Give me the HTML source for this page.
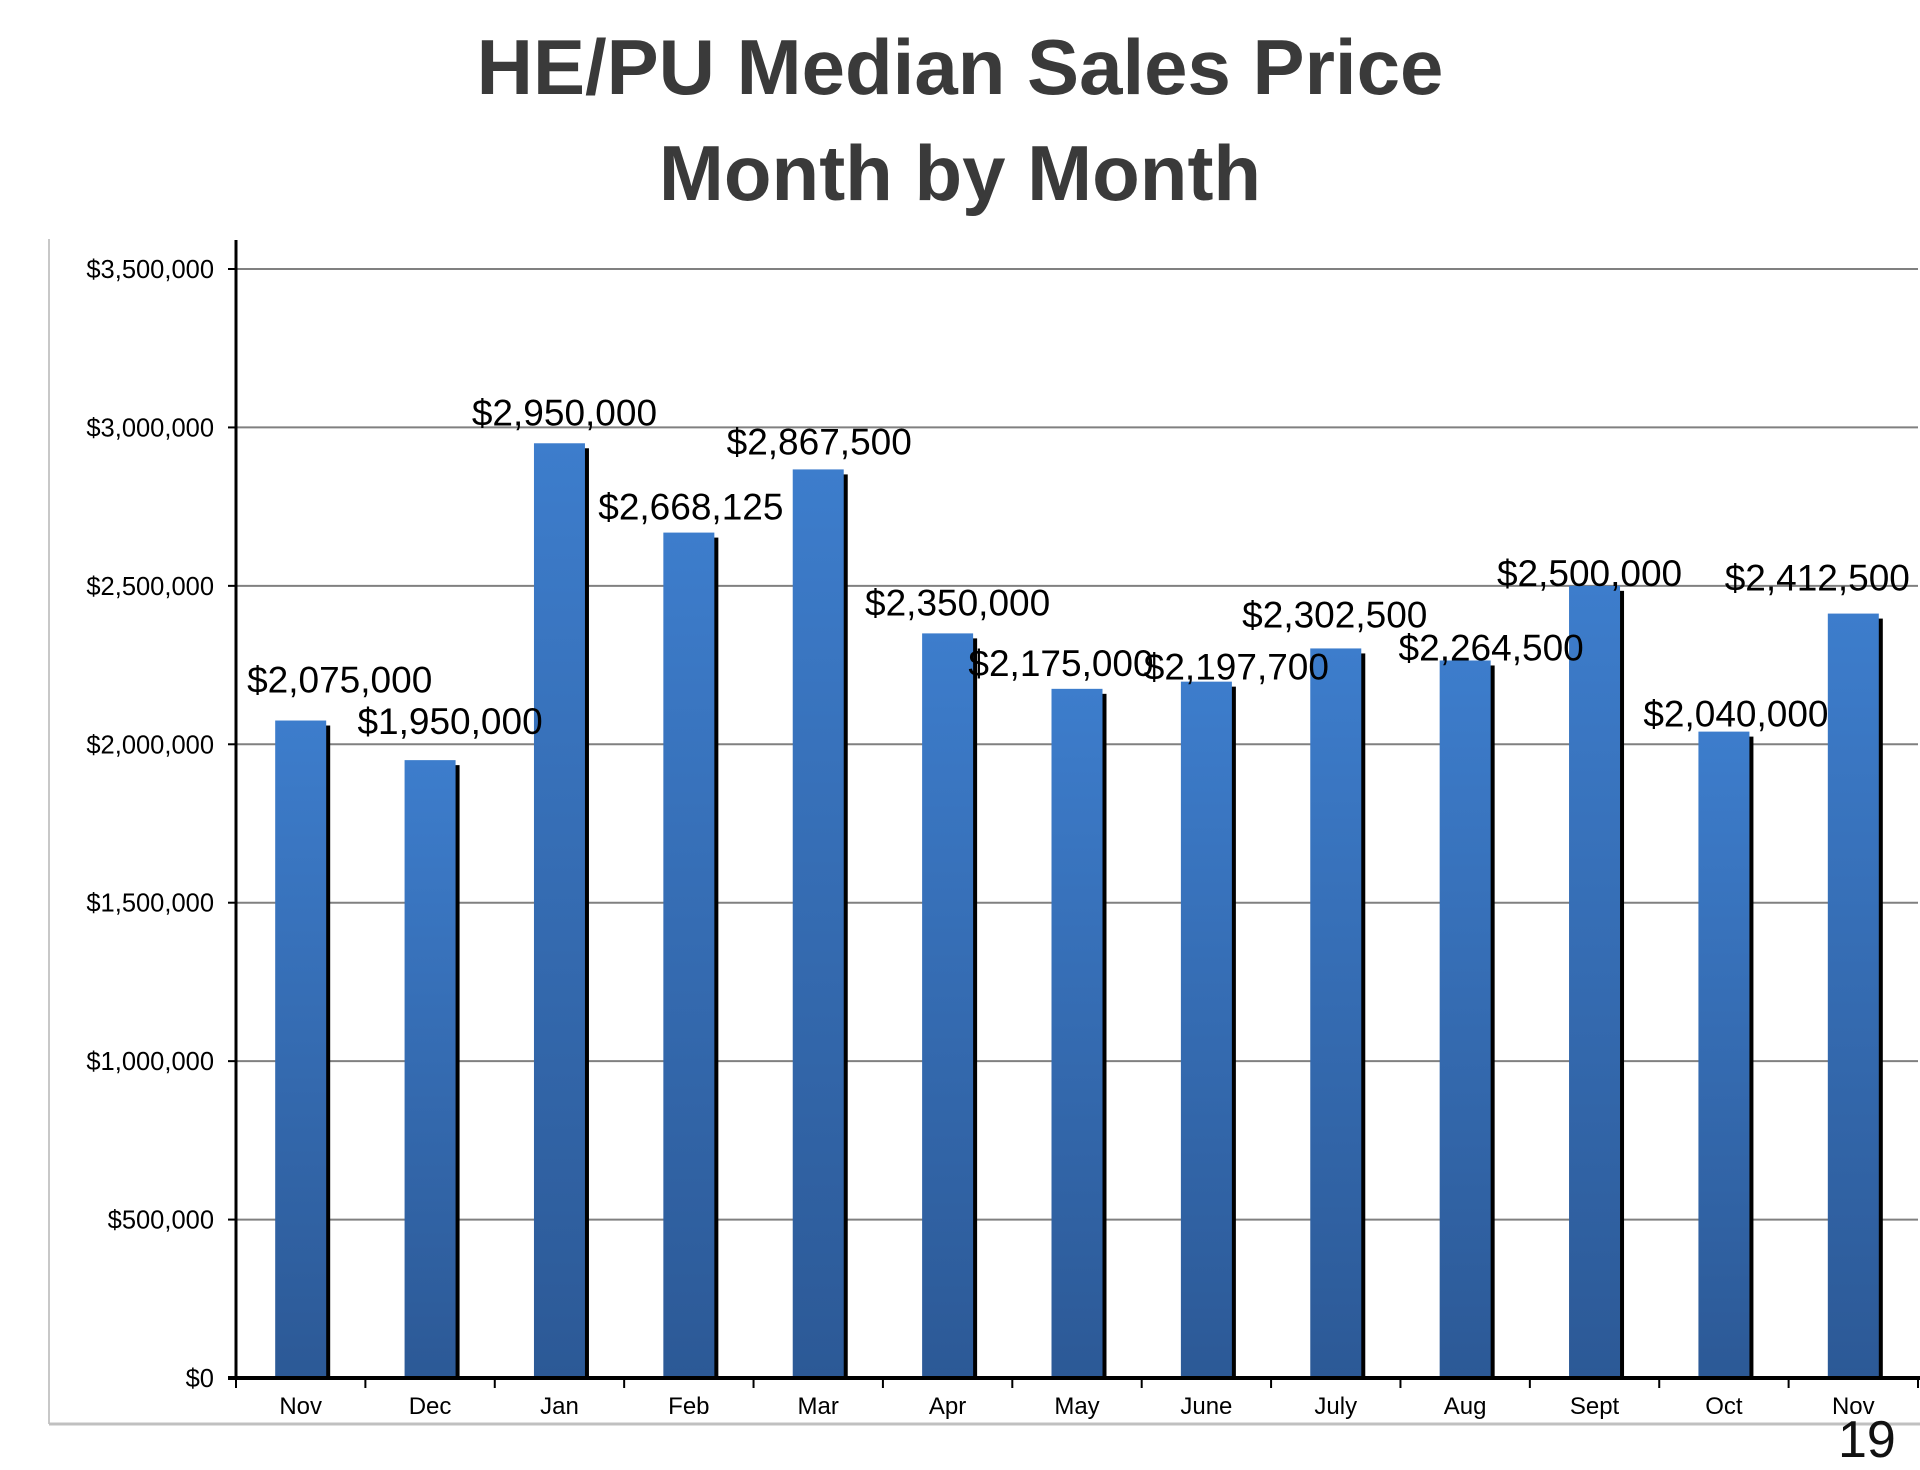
<!DOCTYPE html>
<html><head><meta charset="utf-8"><style>
html,body{margin:0;padding:0;background:#fff;}
body{width:1920px;height:1440px;overflow:hidden;position:relative;font-family:"Liberation Sans",sans-serif;}
.title{position:absolute;left:0;width:1920px;text-align:center;font-weight:bold;font-size:78px;color:#3a3a3a;line-height:1;}
svg{position:absolute;left:0;top:0;}
</style></head><body>
<div class="title" style="top:28px">HE/PU Median Sales Price</div>
<div class="title" style="top:134px">Month by Month</div>
<svg id="chart" width="1920" height="1440">
<defs><linearGradient id="bg" x1="0" y1="0" x2="0" y2="1"><stop offset="0" stop-color="#3d7dcc"/><stop offset="1" stop-color="#2c5996"/></linearGradient></defs>
</svg>
<div style="position:absolute;left:1838px;top:1410px;font-size:52px;color:#111;">19</div>
<script>
const categories=["Nov","Dec","Jan","Feb","Mar","Apr","May","June","July","Aug","Sept","Oct","Nov"];
const values=[2075000,1950000,2950000,2668125,2867500,2350000,2175000,2197700,2302500,2264500,2500000,2040000,2412500];
const tickValues=[0,500000,1000000,1500000,2000000,2500000,3000000,3500000];
const labelDx=[39,20,5,2,1,10,-16,30,-1,26,-5,12,-36];
const labelDy=[-28,-26,-18,-13,-15,-18,-13,-2,-21,0,0,-5,-23];
const svg=document.getElementById('chart');
const NS='http://www.w3.org/2000/svg';
const X0=236,X1=1918,Y0=1378,Y1=269,VMAX=3500000;
const y=v=>Y0-(v/VMAX)*(Y0-Y1);
const band=(X1-X0)/categories.length;
const xc=i=>X0+band*(i+0.5);
const fmt=v=>'$'+v.toLocaleString('en-US');
function el(t,a){const e=document.createElementNS(NS,t);for(const k in a)e.setAttribute(k,a[k]);svg.appendChild(e);return e;}
let f=el('line',{x1:49,y1:239,x2:49,y2:1424,stroke:'#c8c8c8','stroke-width':2});


f=el('line',{x1:49,y1:1424,x2:1920,y2:1424,stroke:'#c0c0c0','stroke-width':3});


tickValues.forEach(v=>{
  if(v>0){const g=el('line',{x1:X0,y1:y(v),x2:X1,y2:y(v),stroke:'#808080','stroke-width':2});
  
  }
  const tk=el('line',{x1:X0-8,y1:y(v),x2:X0,y2:y(v),stroke:'#000','stroke-width':2});
  
  
  const t=el('text',{x:X0-22,y:y(v)+9,'text-anchor':'end','font-size':25.5,fill:'#000'});
  t.textContent=fmt(v);
  
  
});
values.forEach((v,i)=>{
  const w=51,cx=xc(i),top=y(v);
  const sh=el('rect',{x:cx+w/2-1,y:top+5,width:5,height:Y0-top-5,fill:'#000'});
  
  
  const b=el('rect',{x:cx-w/2,y:top,width:w,height:Y0-top,fill:'url(#bg)'});
  
  
  const c=el('text',{x:cx,y:Y0+36,'text-anchor':'middle','font-size':24,fill:'#000'});
  c.textContent=categories[i];
  
  
});
values.forEach((v,i)=>{
  const t=el('text',{x:xc(i)+labelDx[i],y:y(v)+labelDy[i],'text-anchor':'middle','font-size':37,fill:'#000'});
  t.textContent=fmt(v);
  
  
});
for(let i=0;i<=categories.length;i++){
  const tk=el('line',{x1:X0+band*i,y1:Y0,x2:X0+band*i,y2:Y0+10,stroke:'#000','stroke-width':2});
  
  
}
let ax=el('line',{x1:X0,y1:240,x2:X0,y2:Y0,stroke:'#000','stroke-width':3});


ax=el('line',{x1:X0-8,y1:Y0,x2:1920,y2:Y0,stroke:'#000','stroke-width':4});


</script>
</body></html>
